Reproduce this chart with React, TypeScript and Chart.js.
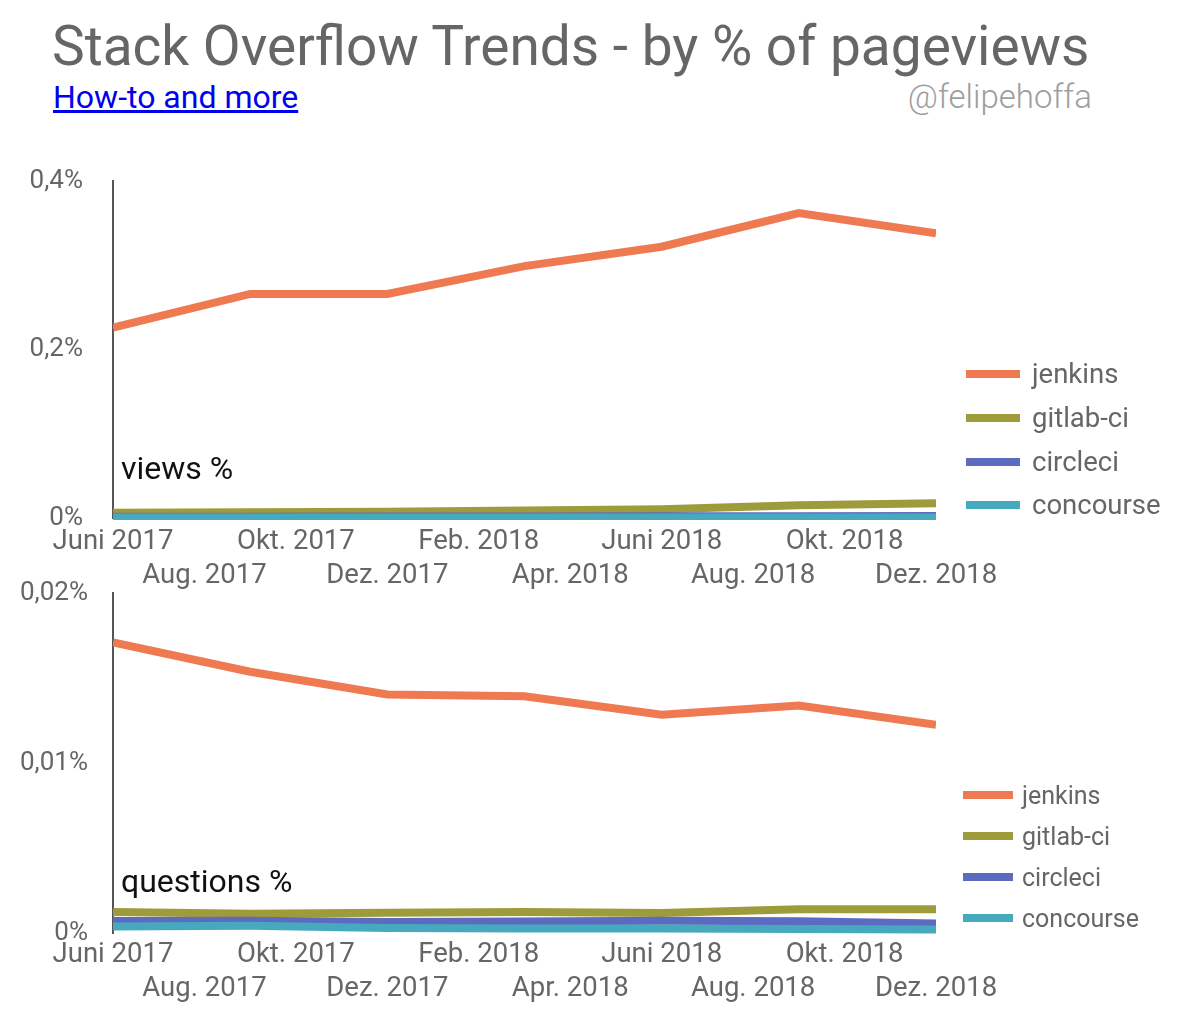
import React, { useEffect, useRef } from 'react';
import { Chart, registerables } from 'chart.js';

Chart.register(...registerables);

// ---- data ----
const monthLabels = [
  'Juni 2017', 'Juli 2017', 'Aug. 2017', 'Sep. 2017', 'Okt. 2017', 'Nov. 2017', 'Dez. 2017',
  'Jan. 2018', 'Feb. 2018', 'März 2018', 'Apr. 2018', 'Mai 2018', 'Juni 2018', 'Juli 2018',
  'Aug. 2018', 'Sep. 2018', 'Okt. 2018', 'Nov. 2018', 'Dez. 2018',
];
const sampleDates = ['Juni 2017', 'Sep. 2017', 'Dez. 2017', 'März 2018', 'Juni 2018', 'Sep. 2018', 'Dez. 2018'];
const seriesNames = ['jenkins', 'gitlab-ci', 'circleci', 'concourse'];
const seriesColors = ['#ef7951', '#9e9b3b', '#5c6bc0', '#47a9bd'];

const viewsJenkins = [0.226, 0.266, 0.266, 0.299, 0.322, 0.362, 0.338];
const viewsGitlab = [0.0063, 0.0068, 0.0075, 0.009, 0.0105, 0.015, 0.0175];
const viewsCircleci = [0.0015, 0.0015, 0.0017, 0.0018, 0.002, 0.0022, 0.0024];
const viewsConcourse = [0.0006, 0.0006, 0.0006, 0.0006, 0.0006, 0.0006, 0.0006];

const questionsJenkins = [0.01709, 0.01537, 0.01403, 0.01393, 0.01284, 0.01338, 0.01225];
const questionsGitlab = [0.00123, 0.00113, 0.00119, 0.00123, 0.00117, 0.00139, 0.00139];
const questionsCircleci = [0.0007, 0.00072, 0.00064, 0.00068, 0.00072, 0.00069, 0.00056];
const questionsConcourse = [0.00038, 0.00042, 0.0003, 0.00026, 0.00026, 0.00024, 0.0002];

const viewsTicks = [0, 0.2, 0.4];
const questionsTicks = [0, 0.01, 0.02];

const FONT = 'Roboto, "Noto Sans", sans-serif';

function fmtPct(v: number) {
  return String(Number(v.toFixed(4))).replace('.', ',') + '%';
}

type PanelProps = {
  values: number[][];
  ticks: number[];
  top: number;
  height: number;
  yPad: number;
  xPad: number;
};

function ChartPanel({ values, ticks, top, height, yPad, xPad }: PanelProps) {
  const ref = useRef<HTMLCanvasElement | null>(null);
  useEffect(() => {
    if (!ref.current) return;
    const chart = new Chart(ref.current, {
      type: 'line',
      data: {
        labels: monthLabels,
        datasets: seriesNames.map((name, i) => ({
          label: name,
          data: sampleDates.map((d, j) => ({ x: d, y: values[i][j] })),
          borderColor: seriesColors[i],
          backgroundColor: seriesColors[i],
          borderWidth: 8,
          pointRadius: 0,
          tension: 0,
          order: seriesNames.length - i,
          clip: { left: 0, right: 0, top: 4, bottom: 2 },
        })),
      },
      options: {
        responsive: false,
        animation: false,
        layout: { padding: { top: 20, right: 260, left: 0, bottom: 0 } },
        plugins: { legend: { display: false }, tooltip: { enabled: false } },
        scales: {
          x: {
            type: 'category',
            grid: { display: false, drawTicks: false },
            border: { display: false },
            ticks: {
              autoSkip: false,
              maxRotation: 0,
              minRotation: 0,
              padding: xPad,
              color: '#666',
              font: { family: FONT, size: 27.5, lineHeight: 1.24 },
              callback: (_v: any, index: number) => {
                const lab = monthLabels[index];
                if (index % 4 === 0) return lab;
                if (index % 4 === 2) return ['', lab];
                return '';
              },
            },
            afterFit: (s: any) => {
              s.height = 80;
            },
          },
          y: {
            min: ticks[0],
            max: ticks[ticks.length - 1],
            afterBuildTicks: (s: any) => {
              s.ticks = ticks.map((v) => ({ value: v }));
            },
            grid: { display: false, drawTicks: false },
            border: { display: true, color: '#555', width: 2 },
            ticks: {
              padding: yPad,
              color: '#666',
              font: { family: FONT, size: 26 },
              callback: (v: any) => fmtPct(Number(v)),
            },
            afterFit: (s: any) => {
              s.width = 113;
              s.paddingTop = 0;
              s.paddingBottom = 0;
            },
          },
        },
      },
    } as any);
    return () => chart.destroy();
  }, []);
  return (
    <canvas
      ref={ref}
      width={1196}
      height={height}
      style={{ position: 'absolute', left: 0, top, width: 1196, height }}
    />
  );
}

function Text({ x, baseline, size, color, children, weight = 400, right = false }: any) {
  const top = baseline - 0.8415 * size;
  const style: any = {
    position: 'absolute',
    top,
    fontFamily: FONT,
    fontSize: size,
    lineHeight: 1,
    color,
    fontWeight: weight,
    whiteSpace: 'nowrap',
  };
  if (right) style.right = 1196 - x;
  else style.left = x;
  return <div style={style}>{children}</div>;
}

function Legend({ swLeft, swWidth, textLeft, centers, size }: any) {
  return (
    <>
      {seriesNames.map((n, i) => (
        <React.Fragment key={n}>
          <div
            style={{
              position: 'absolute',
              left: swLeft,
              top: centers[i] - 4,
              width: swWidth,
              height: 8,
              background: seriesColors[i],
            }}
          />
          <Text x={textLeft} baseline={centers[i] + 9.3} size={size} color="#666">
            {n}
          </Text>
        </React.Fragment>
      ))}
    </>
  );
}

export default function App() {
  return (
    <div
      style={{
        position: 'absolute',
        left: 0,
        top: 0,
        width: 1196,
        height: 1024,
        background: '#fff',
        overflow: 'hidden',
      }}
    >
      <Text x={52} baseline={65} size={55} color="#666">
        Stack Overflow Trends - by % of pageviews
      </Text>
      <div
        style={{
          position: 'absolute',
          left: 53,
          top: 108 - 0.8415 * 32,
          fontFamily: FONT,
          fontSize: 32,
          lineHeight: 1,
          whiteSpace: 'nowrap',
        }}
      >
        <a href="#" style={{ color: '#0000ee', textDecoration: 'underline' }}>
          How-to and more
        </a>
      </div>
      <Text x={1092} baseline={108} size={33} color="#9e9e9e" weight={300} right>
        @felipehoffa
      </Text>

      <ChartPanel
        values={[viewsJenkins, viewsGitlab, viewsCircleci, viewsConcourse]}
        ticks={viewsTicks}
        top={161}
        height={437}
        yPad={30}
        xPad={7}
      />
      <ChartPanel
        values={[questionsJenkins, questionsGitlab, questionsCircleci, questionsConcourse]}
        ticks={questionsTicks}
        top={573}
        height={440}
        yPad={25}
        xPad={5}
      />

      <Text x={121} baseline={479} size={32} color="#111">
        views %
      </Text>
      <Text x={121} baseline={892} size={32} color="#111">
        questions %
      </Text>

      <Legend swLeft={966} swWidth={54} textLeft={1032} centers={[374, 418, 462, 505]} size={27.5} />
      <Legend swLeft={963} swWidth={50} textLeft={1022} centers={[795, 836, 877, 918]} size={25} />
    </div>
  );
}
